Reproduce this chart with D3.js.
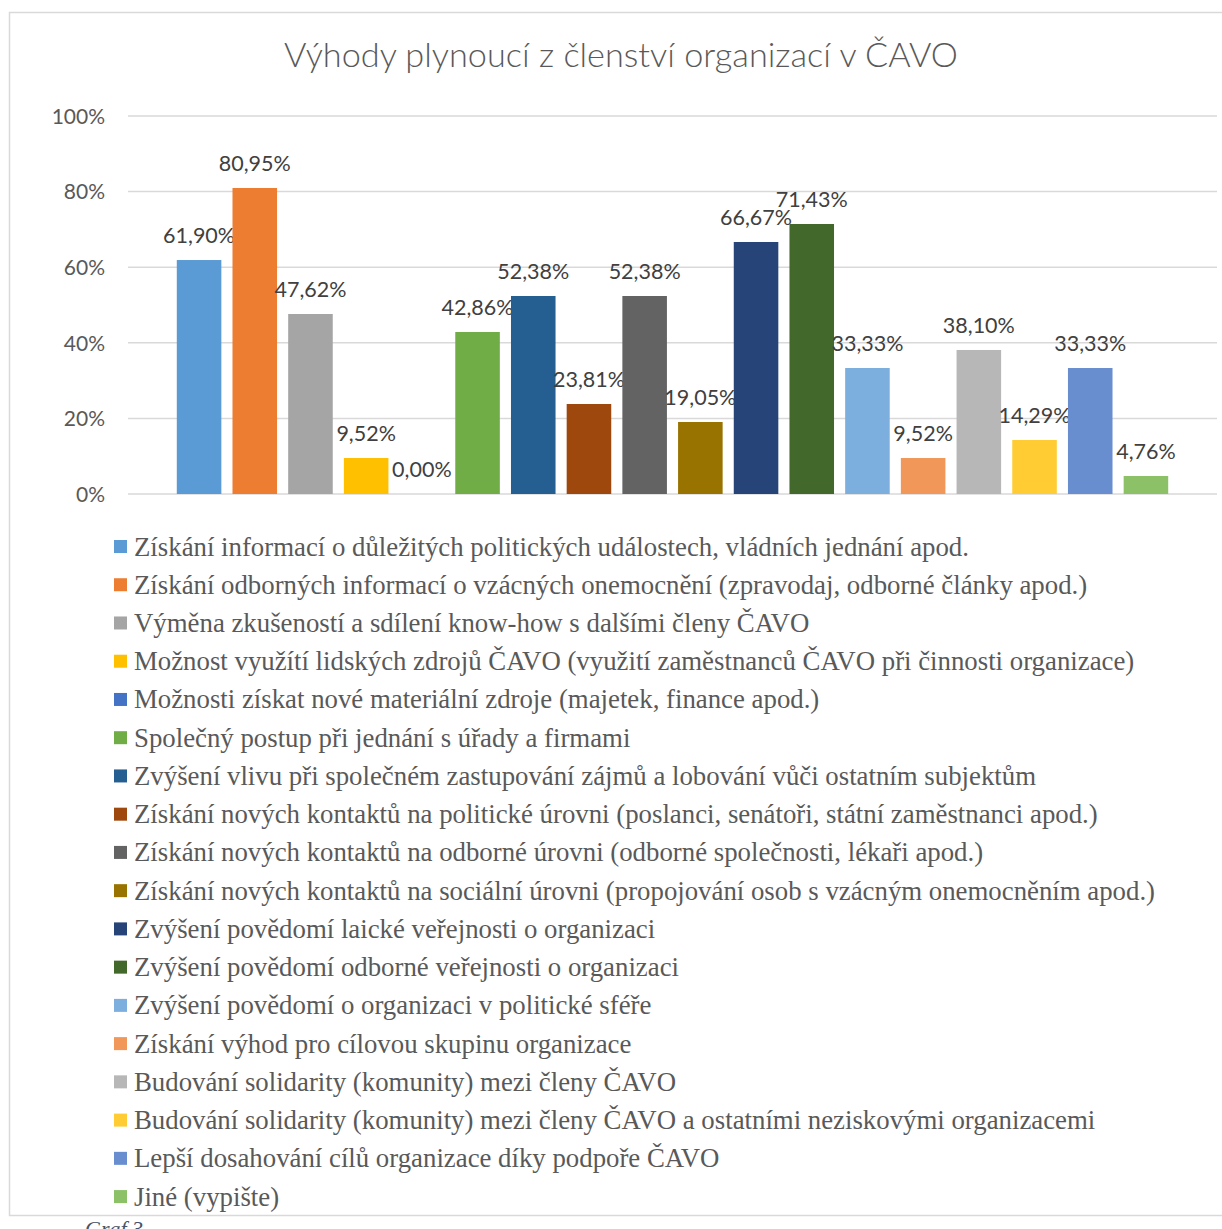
<!DOCTYPE html>
<html>
<head>
<meta charset="utf-8">
<script src="https://cdn.jsdelivr.net/npm/d3@7"></script>
<style>
  body { margin: 0; background: #fff; }
  svg { display: block; }
</style>
</head>
<body>
<div id="chart"></div>
<script>
// data
const categories = [
  "Získání informací o důležitých politických událostech, vládních jednání apod.",
  "Získání odborných informací o vzácných onemocnění (zpravodaj, odborné články apod.)",
  "Výměna zkušeností a sdílení know-how s dalšími členy ČAVO",
  "Možnost využítí lidských zdrojů ČAVO (využití zaměstnanců ČAVO při činnosti organizace)",
  "Možnosti získat nové materiální zdroje (majetek, finance apod.)",
  "Společný postup při jednání s úřady a firmami",
  "Zvýšení vlivu při společném zastupování zájmů a lobování vůči ostatním subjektům",
  "Získání nových kontaktů na politické úrovni (poslanci, senátoři, státní zaměstnanci apod.)",
  "Získání nových kontaktů na odborné úrovni (odborné společnosti, lékaři apod.)",
  "Získání nových kontaktů na sociální úrovni (propojování osob s vzácným onemocněním apod.)",
  "Zvýšení povědomí laické veřejnosti o organizaci",
  "Zvýšení povědomí odborné veřejnosti o organizaci",
  "Zvýšení povědomí o organizaci v politické sféře",
  "Získání výhod pro cílovou skupinu organizace",
  "Budování solidarity (komunity) mezi členy ČAVO",
  "Budování solidarity (komunity) mezi členy ČAVO a ostatními neziskovými organizacemi",
  "Lepší dosahování cílů organizace díky podpoře ČAVO",
  "Jiné (vypište)"
];
const values = [61.90, 80.95, 47.62, 9.52, 0.00, 42.86, 52.38, 23.81, 52.38, 19.05,
                66.67, 71.43, 33.33, 9.52, 38.10, 14.29, 33.33, 4.76];
const colors = ["#5B9BD5", "#ED7D31", "#A5A5A5", "#FFC000", "#4472C4", "#70AD47",
                "#255E91", "#9E480E", "#636363", "#997300", "#264478", "#43682B",
                "#7CAFDD", "#F1975A", "#B7B7B7", "#FFCD33", "#698ED0", "#8CC168"];
const yTicks = [0, 20, 40, 60, 80, 100];
const title = "Výhody plynoucí z členství organizací v ČAVO";

const W = 1222, H = 1229;
const plot = {left: 128, right: 1217, top: 116, bottom: 494};

const svg = d3.select("#chart").append("svg")
  .attr("width", W).attr("height", H);

// chart frame
svg.append("rect")
  .attr("x", 9.5).attr("y", 12.5)
  .attr("width", W + 20).attr("height", 1203)
  .attr("fill", "#fff").attr("stroke", "#d9d9d9").attr("stroke-width", 1.5);

svg.append("text")
  .attr("x", 621).attr("y", 67)
  .attr("text-anchor", "middle")
  .attr("font-family", "Lato, 'Open Sans', sans-serif")
  .attr("font-weight", 300)
  .attr("font-size", 33)
  .attr("textLength", 674)
  .attr("lengthAdjust", "spacingAndGlyphs")
  .attr("fill", "#595959")
  .text(title);

let x = d3.scaleBand()
  .domain(categories)
  .range([plot.left, plot.right])
  .paddingInner(0.2)
  .paddingOuter(0.876);

let y = d3.scaleLinear().domain([0, 100]).range([plot.bottom, plot.top]);

// grid
svg.append("g")
  .selectAll("line")
  .data(yTicks)
  .enter().append("line")
  .attr("x1", plot.left).attr("x2", plot.right)
  .attr("y1", d => y(d)).attr("y2", d => y(d))
  .attr("stroke", "#d9d9d9").attr("stroke-width", 1.5);

let yAxis = svg.append("g")
  .attr("transform", "translate(" + (plot.left - 20) + ",0)")
  .call(d3.axisLeft(y).tickValues(yTicks).tickSize(0).tickFormat(d => d + "%"));
yAxis.select(".domain").remove();
yAxis.selectAll("text")
  .attr("font-family", "Lato, 'Open Sans', sans-serif")
  .attr("font-size", 21)
  .attr("fill", "#595959")
  .attr("dy", "0.35em");

// bars
let bars = svg.selectAll(".bar")
  .data(categories)
  .enter()
  .append("g");

bars.append("rect")
  .attr("class", "bar")
  .attr("x", d => x(d))
  .attr("y", (d, i) => y(values[i]))
  .attr("width", x.bandwidth())
  .attr("height", (d, i) => y(0) - y(values[i]))
  .attr("fill", (d, i) => colors[i]);

bars.append("text")
  .text((d, i) => values[i].toFixed(2).replace(".", ",") + "%")
  .attr("x", d => x(d) + x.bandwidth() / 2)
  .attr("y", (d, i) => y(values[i]) - 17)
  .attr("font-family", "Lato, 'Open Sans', sans-serif")
  .attr("font-size", 21.5)
  .attr("fill", "#404040")
  .attr("text-anchor", "middle");

// legend
let legend = svg.append("g")
  .selectAll("g")
  .data(categories)
  .enter().append("g")
  .attr("transform", (d, i) => "translate(114," + (547 + i * 38.24) + ")");

legend.append("rect")
  .attr("x", 0).attr("y", -7)
  .attr("width", 13).attr("height", 13)
  .attr("fill", (d, i) => colors[i]);

legend.append("text")
  .attr("x", 20).attr("y", 8.5)
  .attr("font-family", "'Liberation Serif', 'Times New Roman', serif")
  .attr("font-size", 26.8)
  .attr("fill", "#595959")
  .text(d => d);

// caption below the chart (cut by the page edge)
svg.append("text")
  .attr("x", 85).attr("y", 1236)
  .attr("font-family", "'Liberation Serif', 'Times New Roman', serif")
  .attr("font-style", "italic")
  .attr("font-size", 22)
  .attr("fill", "#44546A")
  .text("Graf 3");
</script>
</body>
</html>
